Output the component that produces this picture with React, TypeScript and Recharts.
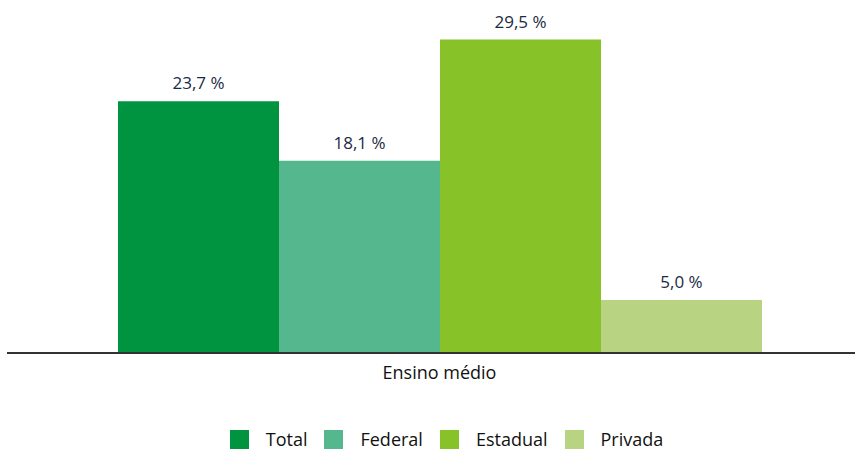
import { BarChart, Bar, XAxis, YAxis, LabelList } from "recharts";

const categories = ["Ensino médio"];
const total = [23.7];
const federal = [18.1];
const estadual = [29.5];
const privada = [5.0];

const seriesNames = ["Total", "Federal", "Estadual", "Privada"];
const seriesKeys = ["total", "federal", "estadual", "privada"];
const colors = ["#009340", "#55b78e", "#86c228", "#b8d483"];

const data = categories.map((c, i) => ({
  name: c,
  total: total[i],
  federal: federal[i],
  estadual: estadual[i],
  privada: privada[i],
}));

const font = "'Open Sans', sans-serif";

const fmt = (v: any) => Number(v).toFixed(1).replace(".", ",") + " %";

function LegendRow() {
  return (
    <div
      style={{
        position: "absolute",
        top: 427,
        left: 0,
        width: 893,
        display: "flex",
        justifyContent: "center",
        fontFamily: font,
        fontSize: 18,
        color: "#111",
      }}
    >
      {seriesNames.map((n, i) => (
        <div key={n} style={{ display: "flex", alignItems: "center", marginRight: i < 3 ? 17 : 0 }}>
          <div style={{ width: 19, height: 19, background: colors[i], marginRight: 17 }} />
          <span>{n}</span>
        </div>
      ))}
    </div>
  );
}

export default function App() {
  return (
    <div
      style={{
        position: "absolute",
        top: 0,
        left: 0,
        width: 855,
        height: 450,
        overflow: "hidden",
        background: "#fff",
      }}
    >
      <BarChart
        width={855}
        height={450}
        data={data}
        margin={{ top: 13, right: -17, left: 7, bottom: 97 - 30 }}
        barCategoryGap={111}
        barGap={0}
      >
        <XAxis
          dataKey="name"
          tickLine={false}
          axisLine={{ stroke: "#333", strokeWidth: 2 }}
          tick={{ fill: "#111", fontSize: 18, fontFamily: font }}
          height={30}
          tickMargin={7}
        />
        <YAxis hide domain={[0, 32]} />
        {seriesKeys.map((k, i) => (
          <Bar key={k} dataKey={k} name={seriesNames[i]} fill={colors[i]} isAnimationActive={false}>
            <LabelList
              dataKey={k}
              position="top"
              offset={12}
              formatter={fmt}
              style={{ fill: "#1b2a44", fontSize: 17, fontFamily: font }}
            />
          </Bar>
        ))}
      </BarChart>
      <LegendRow />
    </div>
  );
}
